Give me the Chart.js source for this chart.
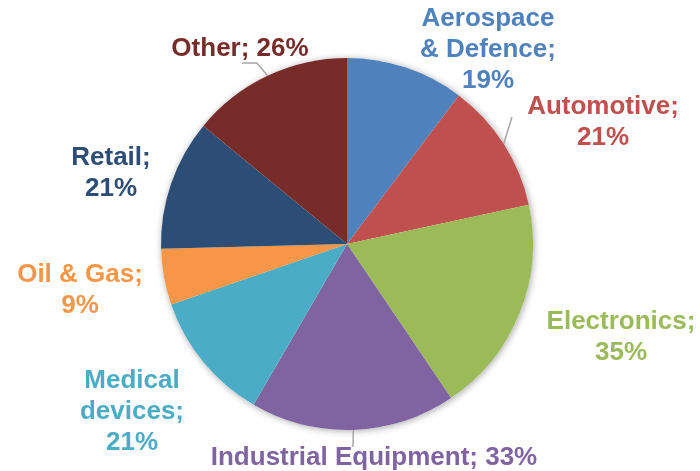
<!DOCTYPE html>
<html>
<head>
<meta charset="utf-8">
<script src="https://cdn.jsdelivr.net/npm/chart.js@4"></script>
<style>
  html, body { margin: 0; padding: 0; background: #fff; }
  #wrap { width: 700px; height: 471px; }
</style>
</head>
<body>
<div id="wrap"><canvas id="chart"></canvas></div>
<script>
// datos del gráfico
const sectores = ['Aerospace & Defence', 'Automotive', 'Electronics', 'Industrial Equipment', 'Medical devices', 'Oil & Gas', 'Retail', 'Other'];
const valores = [19, 21, 35, 33, 21, 9, 21, 26];
const colores = ['#4F81BD', '#C0504D', '#9BBB59', '#8064A2', '#4BACC6', '#F79646', '#2C4D75', '#772C2A'];
// texto de cada etiqueta (una entrada por línea)
const etiquetas = [
    ['Aerospace', '& Defence;', '19%'],
    ['Automotive;', '21%'],
    ['Electronics;', '35%'],
    ['Industrial Equipment; 33%'],
    ['Medical', 'devices;', '21%'],
    ['Oil & Gas;', '9%'],
    ['Retail;', '21%'],
    ['Other; 26%']
];

// posición de las etiquetas respecto al centro del pastel (px)
const posEtiquetas = [[141, -194], [256, -122], [274, 93], [27, 214], [-215, 168], [-267, 46], [-236, -71], [-107, -195]];
// líneas guía: puntos después del borde del sector
const guias = { 1: [[165, -127]], 3: [[6, 203]], 7: [[-90, -181], [-105, -181]] };

const ctx = document.querySelector('#chart').getContext('2d');

/* sombra suave alrededor del pastel */
const sombraPlugin = {
    id: 'sombra',
    beforeDatasetsDraw(chart) {
        const arc = chart.getDatasetMeta(0).data[0];
        if (!arc) return;
        const c = chart.ctx;
        c.save();
        c.shadowColor = 'rgba(0,0,0,0.35)';
        c.shadowBlur = 7;
        c.shadowOffsetX = 1;
        c.shadowOffsetY = 1;
        c.fillStyle = '#fff';
        c.beginPath();
        c.arc(arc.x, arc.y, arc.outerRadius, 0, Math.PI * 2);
        c.fill();
        c.restore();
    }
};

/* etiquetas y líneas guía */
const etiquetasPlugin = {
    id: 'etiquetas',
    afterDatasetsDraw(chart) {
        const c = chart.ctx;
        const meta = chart.getDatasetMeta(0);
        c.save();
        c.font = 'bold 26px "Liberation Sans", Arial, sans-serif';
        c.textAlign = 'center';
        c.textBaseline = 'middle';
        meta.data.forEach((arc, i) => {
            const cx = arc.x, cy = arc.y;
            if (guias[i]) {
                const mid = (arc.startAngle + arc.endAngle) / 2;
                c.strokeStyle = '#A6A6A6';
                c.lineWidth = 1.5;
                c.beginPath();
                c.moveTo(cx + Math.cos(mid) * arc.outerRadius, cy + Math.sin(mid) * arc.outerRadius);
                guias[i].forEach(p => c.lineTo(cx + p[0], cy + p[1]));
                c.stroke();
            }
            const lineas = etiquetas[i];
            const alto = 31;
            const x = cx + posEtiquetas[i][0];
            const y0 = cy + posEtiquetas[i][1] - (lineas.length - 1) * alto / 2;
            c.fillStyle = colores[i];
            lineas.forEach((t, k) => c.fillText(t, x, y0 + k * alto));
        });
        c.restore();
    }
};

new Chart(ctx, {
    type: 'pie',
    data: {
        labels: sectores,
        datasets: [{
            data: valores,
            backgroundColor: colores,
            borderWidth: 0
        }]
    },
    options: {
        responsive: true,
        maintainAspectRatio: false,
        animation: false,
        layout: { padding: { left: 161, right: 167, top: 58, bottom: 41 } },
        plugins: {
            legend: { display: false },
            tooltip: { enabled: false }
        }
    },
    plugins: [sombraPlugin, etiquetasPlugin]
});
</script>
</body>
</html>
